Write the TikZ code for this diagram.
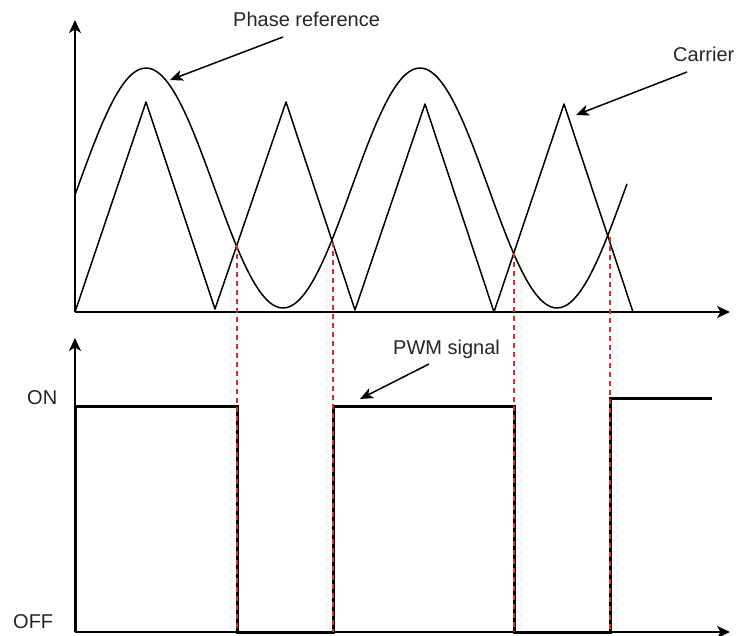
\documentclass[tikz,border=0pt]{standalone}
\usepackage{fontspec}
\setmainfont{Liberation Sans}
\usetikzlibrary{arrows.meta}
\definecolor{cutred}{RGB}{214,45,45}
\begin{document}
\begin{tikzpicture}[x=1pt,y=-1pt,
  axis/.style={line width=1.5pt, -{Stealth[length=13pt,width=12pt,inset=3.5pt]}},
  wave/.style={line width=1.5pt, line join=round},
  pwm/.style={line width=3pt, line join=miter},
  cut/.style={draw=cutred, line width=1.5pt, dash pattern=on 5pt off 4pt},
  lbl/.style={font=\fontsize{20}{24}\selectfont, text=black!85, inner sep=0pt, anchor=base west},
  callout/.style={line width=1.5pt, -{Stealth[length=13pt,width=11pt,inset=3.5pt]}}
]
\useasboundingbox (0,0) rectangle (737,636);
% axes
\coordinate (o1) at (75,312); \coordinate (yt1) at (75,20); \coordinate (xt1) at (730,312);
\coordinate (o2) at (75,632); \coordinate (yt2) at (75,338); \coordinate (xt2) at (730,632);
% carrier
\draw[wave] (75,312) -- (146,102) -- (215,309) -- (286,102) -- (355,310) -- (425,104) -- (494,312) -- (564,104) -- (633,312);
% phase reference
\draw[wave] plot[domain=75:627, samples=160, smooth] (\x, {188-120*sin((\x-77.5)*1.313869)});
\draw[axis] (o1) -- (yt1);
\draw[axis] (o1) -- (xt1);
\draw[axis] (o2) -- (yt2);
\draw[axis] (o2) -- (xt2);
% PWM signal
\draw[pwm] (75,632) -- (75,407) -- (237,407) -- (237,632) -- (333,632) -- (333,407) -- (514,407) -- (514,632) -- (610,632) -- (610,399) -- (712,399);
% intersections
\coordinate (i1) at (237,245); \coordinate (b1) at (237,632);
\coordinate (i2) at (333,242); \coordinate (b2) at (333,632);
\coordinate (i3) at (514,253); \coordinate (b3) at (514,632);
\coordinate (i4) at (610,237); \coordinate (b4) at (610,632);
\draw[cut] (i1) -- (b1);
\draw[cut] (i2) -- (b2);
\draw[cut] (i3) -- (b3);
\draw[cut] (i4) -- (b4);
% labels
\node[lbl] (phl) at (233,27) {Phase reference};
\node[lbl] (carl) at (673,62) {Carrier};
\node[lbl] (pwml) at (393,355) {PWM signal};
\node[lbl] (on) at (27,405) {ON};
\node[lbl] (off) at (13,628) {OFF};
% callouts
\coordinate (pa1) at (283,37); \coordinate (pa2) at (170,80);
\coordinate (ca1) at (687,72); \coordinate (ca2) at (576,115);
\coordinate (wa1) at (429,364); \coordinate (wa2) at (360,399);
\draw[callout] (pa1) -- (pa2);
\draw[callout] (ca1) -- (ca2);
\draw[callout] (wa1) -- (wa2);
\end{tikzpicture}
\end{document}
